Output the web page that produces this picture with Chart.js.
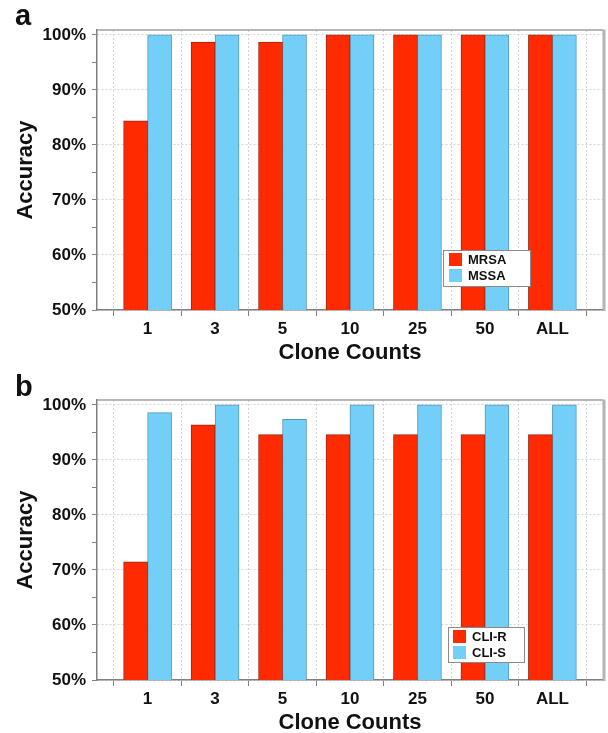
<!DOCTYPE html>
<html>
<head>
<meta charset="utf-8">
<script src="https://cdn.jsdelivr.net/npm/chart.js@4.4.0/dist/chart.umd.min.js"></script>
<style>
    html, body { margin: 0; padding: 0; background: #fff; overflow: hidden; }
    body { width: 608px; height: 733px; position: relative; font-family: "Liberation Sans", Arial, sans-serif; }
    .panel { position: absolute; left: 0; width: 608px; height: 370px; }
    .panel-label { position: absolute; left: 15px; font: bold 29px "Liberation Sans", Arial, sans-serif; line-height: 29px; color: #111; }
</style>
</head>
<body>
<div class="panel" style="top:0"><canvas id="chartA" width="608" height="370"></canvas></div>
<div class="panel" style="top:370px"><canvas id="chartB" width="608" height="370"></canvas></div>
<div class="panel-label" style="top:1px">a</div>
<div class="panel-label" style="top:372px">b</div>
<script>
// --- DATA ---
const categories = ['1', '3', '5', '10', '25', '50', 'ALL'];
const mrsaValues = [84.4, 98.7, 98.7, 100, 100, 100, 100];
const mssaValues = [100, 100, 100, 100, 100, 100, 100];
const cliRValues = [71.5, 96.4, 94.6, 94.6, 94.6, 94.6, 94.6];
const cliSValues = [98.6, 100, 97.4, 100, 100, 100, 100];
const yTicks = [50, 60, 70, 80, 90, 100];

// --- STYLE ---
const RED = '#ff2a00', RED_EDGE = '#9c2812';
const BLUE = '#74cff8', BLUE_EDGE = '#5696b6';
const AXIS_GREY = '#808080';
const FONT = '"Liberation Sans", Arial, sans-serif';

const toPoints = (values) => values.map((v, i) => ({ x: i, y: v }));

// cadre haut/droite + légende dans la zone de tracé
const framePlugin = {
    id: 'frame',
    afterDraw(chart) {
        const { ctx, chartArea: a } = chart;
        ctx.save();
        ctx.strokeStyle = '#a0a0a0';
        ctx.lineWidth = 1.5;
        ctx.beginPath();
        ctx.moveTo(a.left, a.top);
        ctx.lineTo(a.right, a.top);
        ctx.stroke();
        ctx.strokeStyle = '#b4b4b4';
        ctx.lineWidth = 3;
        ctx.beginPath();
        ctx.moveTo(a.right + 1, a.top - 0.5);
        ctx.lineTo(a.right + 1, a.bottom + 1);
        ctx.stroke();

        const box = chart.options.plugins.frame.legendBox;
        ctx.fillStyle = '#fff';
        ctx.fillRect(box.left, box.top, box.w, box.h);
        ctx.strokeStyle = '#8a8a8a';
        ctx.lineWidth = 1;
        ctx.strokeRect(box.left + 0.5, box.top + 0.5, box.w, box.h);
        ctx.font = 'bold 13px ' + FONT;
        ctx.textBaseline = 'middle';
        chart.data.datasets.forEach((ds, i) => {
            const y = box.top + 3 + i * 16;
            ctx.fillStyle = ds.backgroundColor;
            ctx.fillRect(box.left + box.swatchX, y, 13, 13);
            ctx.fillStyle = '#111';
            ctx.fillText(ds.label, box.left + box.swatchX + 19, y + 7);
        });
        ctx.restore();
    }
};

const buildChart = (canvasId, labels, seriesA, seriesB, legendBox) => {
    return new Chart(document.getElementById(canvasId), {
        type: 'bar',
        data: {
            datasets: [{
                label: labels[0],
                data: toPoints(seriesA),
                backgroundColor: RED,
                borderColor: RED_EDGE,
                borderWidth: 1,
                borderSkipped: 'bottom',
                barThickness: 24
            }, {
                label: labels[1],
                data: toPoints(seriesB),
                backgroundColor: BLUE,
                borderColor: BLUE_EDGE,
                borderWidth: 1,
                borderSkipped: 'bottom',
                barThickness: 24
            }]
        },
        options: {
            responsive: false,
            animation: false,
            layout: { padding: { top: 30, right: 5, left: 0, bottom: 0 } },
            plugins: {
                legend: { display: false },
                tooltip: { enabled: false },
                frame: { legendBox }
            },
            scales: {
                x: {
                    type: 'linear',
                    min: -0.75,
                    max: categories.length - 0.25,
                    offset: false,
                    afterBuildTicks: (scale) => {
                        const ticks = [];
                        for (let v = -0.5; v <= categories.length - 0.5; v += 0.5) ticks.push({ value: v });
                        scale.ticks = ticks;
                    },
                    afterFit: (scale) => { scale.height = 60; },
                    grid: {
                        offset: false,
                        color: (c) => (c.tick && Number.isInteger(c.tick.value)) ? 'rgba(0,0,0,0)' : '#d4d4d4',
                        tickColor: (c) => (c.tick && Number.isInteger(c.tick.value)) ? 'rgba(0,0,0,0)' : AXIS_GREY,
                        tickLength: 6,
                        lineWidth: 1
                    },
                    border: { color: AXIS_GREY, width: 1.5, dash: [2, 2] },
                    ticks: {
                        autoSkip: false,
                        maxRotation: 0,
                        padding: 3,
                        color: '#111',
                        font: { family: FONT, size: 17, weight: 'bold' },
                        callback: (value) => Number.isInteger(value) ? categories[value] : ''
                    },
                    title: {
                        display: true,
                        text: 'Clone Counts',
                        color: '#111',
                        font: { family: FONT, size: 22, weight: 'bold' },
                        padding: { top: 0, bottom: 4 }
                    }
                },
                y: {
                    min: 50,
                    max: 100.9,
                    afterBuildTicks: (scale) => {
                        const ticks = [];
                        for (let v = yTicks[0]; v <= yTicks[yTicks.length - 1]; v += 5) ticks.push({ value: v });
                        scale.ticks = ticks;
                    },
                    afterFit: (scale) => { scale.width = 97; },
                    grid: {
                        color: (c) => (c.tick && yTicks.includes(c.tick.value)) ? '#d4d4d4' : 'rgba(0,0,0,0)',
                        tickColor: AXIS_GREY,
                        tickLength: 5,
                        lineWidth: 1
                    },
                    border: { color: AXIS_GREY, width: 1.5, dash: [2, 2] },
                    ticks: {
                        padding: 6,
                        color: '#111',
                        font: { family: FONT, size: 17, weight: 'bold' },
                        callback: (value) => yTicks.includes(value) ? value + '%' : ''
                    },
                    title: {
                        display: true,
                        text: 'Accuracy',
                        color: '#111',
                        font: { family: FONT, size: 22, weight: 'bold' },
                        padding: { top: 13, bottom: 0 }
                    }
                }
            }
        },
        plugins: [framePlugin]
    });
};

buildChart('chartA', ['MRSA', 'MSSA'], mrsaValues, mssaValues,
    { left: 443, top: 250, w: 87, h: 36, swatchX: 6 });
buildChart('chartB', ['CLI-R', 'CLI-S'], cliRValues, cliSValues,
    { left: 448, top: 257, w: 76, h: 35, swatchX: 5 });
</script>
</body>
</html>
